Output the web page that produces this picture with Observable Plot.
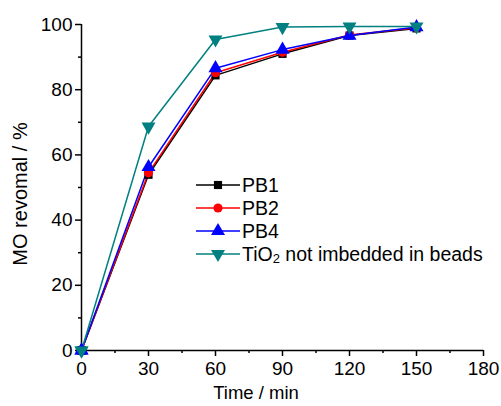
<!DOCTYPE html>
<html><head>
<meta charset="utf-8">
<script src="https://cdn.jsdelivr.net/npm/d3@7"></script>
<script src="https://cdn.jsdelivr.net/npm/@observablehq/plot@0.6"></script>
<style>body{margin:0;background:#fff}#chart svg{display:block}</style>
</head><body><div id="chart"></div>
<script>
const times = [0, 30, 60, 90, 120, 150];
const pb1 = [0, 53.9, 84.4, 91.0, 96.6, 98.8];
const pb2 = [0, 54.5, 85.2, 91.5, 96.8, 99.0];
const pb4 = [0, 56.3, 86.6, 92.3, 96.6, 99.2];
const tio2 = [0, 68.7, 95.4, 99.2, 99.4, 99.4];
const seriesNames = ["PB1", "PB2", "PB4", "TiO2 not imbedded in beads"];
const xTicks = [0, 30, 60, 90, 120, 150, 180];
const xMinor = [15, 45, 75, 105, 135, 165];
const yTicks = [0, 20, 40, 60, 80, 100];
const yMinor = [10, 30, 50, 70, 90];

const styles = [
  {color: "#000000", symbol: "square", r: 4.6, rotate: 0},
  {color: "#ff0000", symbol: "circle", r: 4.6, rotate: 0},
  {color: "#0000ff", symbol: "triangle", r: 5.2, rotate: 0},
  {color: "#008080", symbol: "triangle", r: 5.2, rotate: 180}
];
const values = [pb1, pb2, pb4, tio2];
const series = values.map((vals, i) => times.map((t, j) => ({t, v: vals[j], s: seriesNames[i]})));

const font = "'Liberation Sans', Arial, sans-serif";
const marks = [];
series.forEach((d, i) => {
  marks.push(Plot.line(d, {x: "t", y: "v", stroke: styles[i].color, strokeWidth: 1.5}));
});
series.forEach((d, i) => {
  const st = styles[i];
  marks.push(Plot.dot(d, {x: "t", y: "v", symbol: st.symbol, fill: st.color, r: st.r, rotate: st.rotate, stroke: "none"}));
});

const plot = Plot.plot({
  width: 501, height: 406,
  marginLeft: 81, marginRight: 18, marginTop: 24, marginBottom: 56,
  style: {fontFamily: font, fontSize: "19px", color: "#000", background: "#fff", overflow: "visible"},
  x: {domain: [0, 180]},
  y: {domain: [0, 100]},
  marks: [
    Plot.axisX({ticks: xTicks, tickSize: 6, tickPadding: 5, stroke: "#000", strokeWidth: 1.5, label: null}),
    Plot.axisX({ticks: xMinor, tickSize: 3, text: null, stroke: "#000", strokeWidth: 1.5, label: null}),
    Plot.axisY({ticks: yTicks, tickSize: 6, tickPadding: 3, stroke: "#000", strokeWidth: 1.5, label: null}),
    Plot.axisY({ticks: yMinor, tickSize: 3, text: null, stroke: "#000", strokeWidth: 1.5, label: null}),
    ...marks,
    Plot.ruleY([0], {stroke: "#000", strokeWidth: 1.5}),
    Plot.ruleX([0], {stroke: "#000", strokeWidth: 1.5}),
    ...series.map((d, i) => Plot.dot(d.slice(0, 1), {x: "t", y: "v", symbol: styles[i].symbol, fill: styles[i].color, r: styles[i].r, rotate: styles[i].rotate}))
  ]
});
document.getElementById("chart").appendChild(plot);

const svg = d3.select(plot);
svg.selectAll("text").style("font-size", "19px").style("font-family", font);
// axis titles
svg.append("text").attr("x", 256).attr("y", 399).attr("text-anchor", "middle")
  .attr("font-family", font).attr("font-size", 18.5).attr("fill", "#000").text("Time / min");
svg.append("text").attr("transform", "translate(27,194) rotate(-90)").attr("text-anchor", "middle")
  .attr("font-family", font).attr("font-size", 20).attr("fill", "#000").text("MO revomal / %");

// legend
const rowY = [185, 208, 231, 254];
seriesNames.forEach((name, i) => {
  const st = styles[i];
  const g = svg.append("g").attr("transform", `translate(0,${rowY[i]})`);
  g.append("line").attr("x1", 196).attr("x2", 240).attr("y1", 0).attr("y2", 0)
    .attr("stroke", st.color).attr("stroke-width", 1.5);
  const sym = {square: d3.symbolSquare, circle: d3.symbolCircle, triangle: d3.symbolTriangle}[st.symbol];
  g.append("path").attr("d", d3.symbol(sym, Math.PI * st.r * st.r)())
    .attr("transform", `translate(218,0) rotate(${st.rotate})`).attr("fill", st.color);
  const t = g.append("text").attr("x", 242).attr("y", 7).attr("text-anchor", "start")
    .attr("font-family", font).attr("font-size", 19.5).attr("fill", "#000");
  if (name.startsWith("TiO2")) {
    t.append("tspan").text("TiO");
    t.append("tspan").attr("font-size", 13).attr("dy", 2).text("2");
    t.append("tspan").attr("dy", -2).text(name.slice(4));
  } else {
    t.text(name);
  }
});
</script>
</body></html>
